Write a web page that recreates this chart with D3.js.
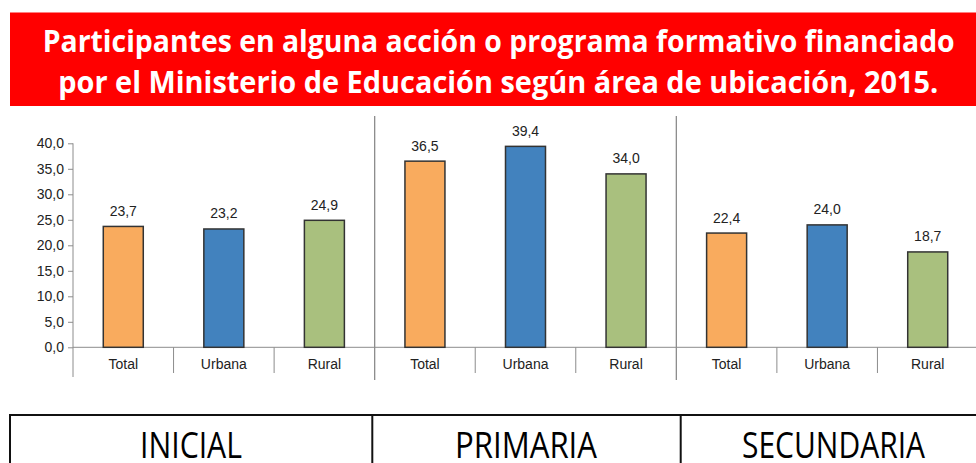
<!DOCTYPE html>
<html>
<head>
<meta charset="utf-8">
<script src="https://cdn.jsdelivr.net/npm/d3@7"></script>
<style>
    body { margin: 0; background: #fff; }
    svg { display: block; }
</style>
</head>
<body>
<div id="chart"></div>
<script>
// # Data.
let levels = ['INICIAL', 'PRIMARIA', 'SECUNDARIA']
let areas = ['Total', 'Urbana', 'Rural']
let inicial = [23.7, 23.2, 24.9]
let primaria = [36.5, 39.4, 34.0]
let secundaria = [22.4, 24.0, 18.7]
let yTicks = [0, 5, 10, 15, 20, 25, 30, 35, 40]
let titleLines = [
    'Participantes en alguna acción o programa formativo financiado',
    'por el Ministerio de Educación según área de ubicación, 2015.'
]

let width = 976, height = 463
let areaColor = {Total: '#f9ab5e', Urbana: '#4282be', Rural: '#a9c07e'}
let axisColor = '#8c8c8c'
let labelFont = 'Arial, "Liberation Sans", sans-serif'
let fmt = v => d3.format('.1f')(v).replace('.', ',')

// # Flatten to one row per bar.
let rows = []
;[inicial, primaria, secundaria].forEach((vals, i) => {
    vals.forEach((v, j) => rows.push({level: levels[i], area: areas[j], key: levels[i] + '-' + areas[j], value: v}))
})

let svg = d3.select('#chart')
    .append('svg')
    .attr('width', width)
    .attr('height', height)

// # Red title banner.
svg.append('rect')
    .attr('x', 10).attr('y', 12.5)
    .attr('width', width - 10).attr('height', 93.5)
    .attr('fill', '#ff0000')
let titleX = [[42.7, 912], [58.3, 880]]
let titleY = [52, 93]
svg.selectAll('text.title')
    .data(titleLines)
    .enter().append('text')
    .attr('class', 'title')
    .attr('x', (d, i) => titleX[i][0])
    .attr('y', (d, i) => titleY[i])
    .attr('textLength', (d, i) => titleX[i][1])
    .attr('lengthAdjust', 'spacingAndGlyphs')
    .attr('fill', '#fff')
    .attr('font-family', '"Open Sans", sans-serif')
    .attr('font-weight', 700)
    .attr('font-size', 30)
    .text(d => d)

// # Scales.
let x = d3.scaleBand()
    .domain(rows.map(r => r.key))
    .range([73, 978])
let barW = 40
let y = d3.scaleLinear()
    .domain([0, 40])
    .range([347.3, 143.3])

// # Y axis.
let yAxis = svg.append('g')
    .attr('transform', 'translate(73,0)')
    .call(d3.axisLeft(y).tickValues(yTicks).tickFormat(fmt).tickSize(5).tickPadding(4))
yAxis.select('.domain').remove()
yAxis.selectAll('line').attr('stroke', axisColor)
yAxis.selectAll('text')
    .attr('fill', '#222')
    .attr('font-family', labelFont)
    .attr('font-size', 14)
svg.append('line')
    .attr('x1', 73).attr('x2', 73)
    .attr('y1', y(40)).attr('y2', 377)
    .attr('stroke', axisColor)

// # X axis line and category dividers.
svg.append('line')
    .attr('x1', 73).attr('x2', width)
    .attr('y1', y(0)).attr('y2', y(0))
    .attr('stroke', axisColor)
let dividers = rows.slice(1).map(r => x(r.key))
svg.selectAll('line.div')
    .data(dividers)
    .enter().append('line')
    .attr('class', 'div')
    .attr('x1', d => d).attr('x2', d => d)
    .attr('y1', (d, i) => (i + 1) % 3 == 0 ? 116 : y(0))
    .attr('y2', (d, i) => (i + 1) % 3 == 0 ? 380 : 373)
    .attr('stroke', axisColor)
    .attr('stroke-width', (d, i) => (i + 1) % 3 == 0 ? 1.3 : 1)

// # Bars.
svg.selectAll('rect.bar')
    .data(rows)
    .enter().append('rect')
    .attr('class', 'bar')
    .attr('x', r => x(r.key) + (x.bandwidth() - barW) / 2)
    .attr('y', r => y(r.value))
    .attr('width', barW)
    .attr('height', r => y(0) - y(r.value))
    .attr('fill', r => areaColor[r.area])
    .attr('stroke', '#333')
    .attr('stroke-width', 1.5)

// # Value labels.
svg.selectAll('text.val')
    .data(rows)
    .enter().append('text')
    .attr('class', 'val')
    .attr('x', r => x(r.key) + x.bandwidth() / 2)
    .attr('y', r => y(r.value) - 10.5)
    .attr('text-anchor', 'middle')
    .attr('fill', '#222')
    .attr('font-family', labelFont)
    .attr('font-size', 14)
    .text(r => fmt(r.value))

// # Category labels.
svg.selectAll('text.cat')
    .data(rows)
    .enter().append('text')
    .attr('class', 'cat')
    .attr('x', r => x(r.key) + x.bandwidth() / 2)
    .attr('y', 369)
    .attr('text-anchor', 'middle')
    .attr('fill', '#222')
    .attr('font-family', labelFont)
    .attr('font-size', 14)
    .text(r => r.area)

// # Level table at the bottom.
let cellX = [10, 372.3, 680.7]
let cellMid = [191, 526, 833.5]
let cellW = [102, 142, 183]
svg.append('line')
    .attr('x1', 9).attr('x2', width)
    .attr('y1', 415).attr('y2', 415)
    .attr('stroke', '#111')
    .attr('stroke-width', 2)
svg.selectAll('line.cell')
    .data(cellX)
    .enter().append('line')
    .attr('class', 'cell')
    .attr('x1', d => d).attr('x2', d => d)
    .attr('y1', 414).attr('y2', height)
    .attr('stroke', '#111')
    .attr('stroke-width', 2)
svg.selectAll('text.level')
    .data(levels)
    .enter().append('text')
    .attr('class', 'level')
    .attr('x', (d, i) => cellMid[i])
    .attr('y', 458)
    .attr('text-anchor', 'middle')
    .attr('textLength', (d, i) => cellW[i])
    .attr('lengthAdjust', 'spacingAndGlyphs')
    .attr('fill', '#000')
    .attr('font-family', '"Open Sans", sans-serif')
    .attr('font-size', 36)
    .text(d => d)
</script>
</body>
</html>
